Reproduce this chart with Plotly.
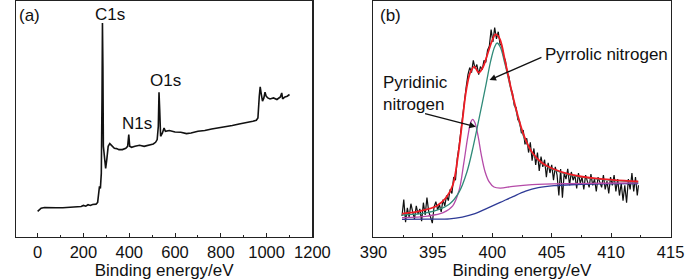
import plotly.graph_objects as go

# ---------------- Panel (a): survey spectrum ----------------
survey_ev = [0, 5, 15, 30, 50, 80, 110, 140, 170, 190, 200, 210, 220, 230, 240, 255, 262, 266, 270, 274, 278,
             281, 283, 285, 287, 291, 297, 302, 308, 315, 325, 335, 345, 355, 370, 385, 393, 398, 402, 410, 425,
             445, 465, 485, 505, 515, 522, 527, 530, 533, 537, 545, 552, 558, 575, 600, 625, 650, 670, 700, 730,
             760, 790, 820, 850, 880, 910, 940, 955, 962, 968, 972, 977, 982, 988, 993, 998, 1005, 1015, 1030,
             1045, 1060, 1066, 1070, 1080, 1090, 1100]
survey_int = [25, 26, 28.3, 29, 28.7, 28.7, 28.7, 29, 29.3, 30, 31, 30.3, 31.7, 31, 32, 32.3, 34, 46.7, 50, 48, 63,
              137, 213, 170, 90, 80, 68, 77, 90, 92.7, 90, 88, 87.7, 86.7, 86.7, 88, 90, 101.7, 90, 89, 90,
              91, 90, 91.3, 92.3, 94, 96.7, 110, 144, 127, 100, 103.3, 108.3, 105, 105.7, 104.3, 104, 102.7, 103.3, 105, 105.7,
              107.3, 108.3, 109.3, 110.7, 112.3, 113.3, 115, 116, 118.3, 140, 149.3, 141.7, 135, 138.3, 144, 140, 138.3, 137.3, 138.3,
              136.7, 139.3, 143.3, 137.3, 139.3, 140, 141.7]

# ---------------- Panel (b): N1s high resolution ----------------
n1s_ev = [392.40, 392.55, 392.70, 392.85, 393.00, 393.15, 393.30, 393.45, 393.60, 393.75, 393.90, 394.05, 394.20,
          394.35, 394.50, 394.65, 394.80, 394.95, 395.10, 395.25, 395.40, 395.55, 395.70, 395.85, 396.00, 396.15,
          396.30, 396.45, 396.60, 396.75, 396.90, 397.05, 397.20, 397.35, 397.50, 397.65, 397.80, 397.95, 398.10,
          398.25, 398.40, 398.55, 398.70, 398.85, 399.00, 399.15, 399.30, 399.45, 399.60, 399.75, 399.90, 400.05,
          400.20, 400.35, 400.50, 400.65, 400.80, 400.95, 401.10, 401.25, 401.40, 401.55, 401.70, 401.85, 402.00,
          402.15, 402.30, 402.45, 402.60, 402.75, 402.90, 403.05, 403.20, 403.35, 403.50, 403.65, 403.80, 403.95,
          404.10, 404.25, 404.40, 404.55, 404.70, 404.85, 405.00, 405.15, 405.30, 405.45, 405.60, 405.75, 405.90,
          406.05, 406.20, 406.35, 406.50, 406.65, 406.80, 406.95, 407.10, 407.25, 407.40, 407.55, 407.70, 407.85,
          408.00, 408.15, 408.30, 408.45, 408.60, 408.75, 408.90, 409.05, 409.20, 409.35, 409.50, 409.65, 409.80,
          409.95, 410.10, 410.25, 410.40, 410.55, 410.70, 410.85, 411.00, 411.15, 411.30, 411.45, 411.60, 411.75,
          411.90, 412.05, 412.20, 412.30]
n1s_int = [20, 36, 14, 28, 19, 32, 24, 17, 30, 22, 27, 15, 33,
           21, 38, 24, 19, 13, 29, 34, 26, 31, 24, 36, 30, 40,
           35, 46, 42, 58, 55, 76, 88, 104, 118, 136, 146, 158, 165,
           160, 172, 164, 168, 158, 166, 163, 172, 170, 182, 186, 202, 190,
           204, 193, 200, 188, 186, 176, 172, 160, 156, 145, 140, 128, 126,
           114, 112, 101, 104, 90, 96, 82, 92, 74, 86, 70, 82, 64,
           78, 68, 75, 58, 72, 62, 70, 55, 68, 60, 40, 66, 38,
           62, 56, 66, 50, 63, 55, 60, 47, 62, 52, 58, 46, 60,
           54, 48, 61, 50, 56, 44, 58, 52, 48, 60, 46, 54, 42,
           58, 50, 60, 44, 56, 40, 52, 35, 50, 33, 56, 46, 62,
           44, 58, 40, 50]

baseline_ev = [392.40, 394.54, 396.40, 397.47, 398.54, 399.60, 400.67, 401.74, 402.80, 403.87, 405.20, 407.08, 409.20, 412.28]
baseline_int = [16.7, 17, 17.3, 19, 22.3, 27.7, 33.3, 39, 44.3, 47.7, 49.7, 50.7, 51.3, 51.7]

pyridinic_ev = [392.40, 394.54, 395.87, 396.67, 397.20, 397.60, 397.95, 398.19, 398.35, 398.54, 398.80, 399.07,
                399.39, 399.74, 400.14, 400.67, 401.74, 403.34, 406.00, 409.20, 412.28]
pyridinic_int = [18.3, 20, 23.3, 30, 45, 71.7, 98.3, 111.7, 114.3, 111, 98.3, 80,
                 63.3, 53.3, 48.3, 47.3, 49, 50.7, 51.7, 52, 52.3]

pyrrolic_ev = [392.40, 394.00, 395.34, 396.40, 397.20, 397.87, 398.40, 398.94, 399.47, 399.87, 400.19, 400.40,
               400.67, 401.07, 401.60, 402.14, 402.67, 403.34, 404.14, 405.20, 406.54, 408.68, 412.28]
pyrrolic_int = [21, 22.3, 25.7, 31.7, 43.3, 63.3, 88.3, 118.3, 148.3, 171.7, 185, 189,
                185, 168.3, 141.7, 116.7, 96.7, 81.7, 71.7, 65, 60, 56.3, 53.3]

envelope_ev = [392.40, 394.00, 395.34, 396.14, 396.67, 397.07, 397.47, 397.79, 398.14, 398.49, 398.86, 399.20,
               399.60, 400.00, 400.27, 400.62, 401.07, 401.60, 402.14, 402.67, 403.34, 404.14, 405.20, 406.54,
               408.68, 412.28]
envelope_int = [22.3, 25, 30, 38.3, 50, 75, 111.7, 141.7, 160, 166, 160, 165,
                178.3, 191.7, 197.3, 193.3, 171.7, 143.3, 118.3, 98.3, 82.3, 72.3, 65.7, 60.7,
                56.7, 53.7]

xa_ticks = [0, 200, 400, 600, 800, 1000, 1200]
xb_ticks = [390, 395, 400, 405, 410, 415]

FONT = "Liberation Sans, Arial, sans-serif"
W, H = 700, 280


def px(x):
    return x / W


def py(y):
    return 1 - y / H


fig = go.Figure()

fig.add_trace(go.Scatter(x=survey_ev, y=survey_int, mode="lines",
                         line=dict(color="#111111", width=1.6), xaxis="x", yaxis="y"))

fig.add_trace(go.Scatter(x=n1s_ev, y=n1s_int, mode="lines",
                         line=dict(color="#111111", width=1.2), xaxis="x2", yaxis="y2"))
fig.add_trace(go.Scatter(x=baseline_ev, y=baseline_int, mode="lines", line_shape="spline",
                         line=dict(color="#2e3a96", width=1.3), xaxis="x2", yaxis="y2"))
fig.add_trace(go.Scatter(x=pyridinic_ev, y=pyridinic_int, mode="lines", line_shape="spline",
                         line=dict(color="#b54aa8", width=1.3), xaxis="x2", yaxis="y2"))
fig.add_trace(go.Scatter(x=pyrrolic_ev, y=pyrrolic_int, mode="lines", line_shape="spline",
                         line=dict(color="#2f8a78", width=1.3), xaxis="x2", yaxis="y2"))
fig.add_trace(go.Scatter(x=envelope_ev, y=envelope_int, mode="lines", line_shape="spline",
                         line=dict(color="#ee1c24", width=1.8), xaxis="x2", yaxis="y2"))

ydom = [(H - 236.5) / H, (H - 1) / H]
axis_common = dict(showline=True, mirror=True, linecolor="#222222", linewidth=1.3,
                   ticks="inside", ticklen=4, tickwidth=1, tickcolor="#222222",
                   showgrid=False, zeroline=False,
                   tickfont=dict(family=FONT, size=16.5, color="#111111"),
                   title=dict(text="Binding energy/eV", font=dict(family=FONT, size=17, color="#111111"),
                              standoff=4))

fig.update_layout(
    width=W, height=H,
    margin=dict(l=0, r=0, t=0, b=0),
    paper_bgcolor="white", plot_bgcolor="white",
    showlegend=False,
    hovermode=False,
    xaxis=dict(domain=[2 / W, 312.7 / W], range=[-95, 1200], tickvals=xa_ticks,
               minor=dict(ticks="inside", ticklen=2, dtick=100, tickcolor="#222222"),
               anchor="y", **axis_common),
    yaxis=dict(domain=ydom, range=[0, 235], showline=True, mirror=True, linecolor="#222222",
               linewidth=1.3, showticklabels=False, ticks="", showgrid=False, zeroline=False,
               anchor="x"),
    xaxis2=dict(domain=[376.7 / W, 688 / W], range=[390, 415], tickvals=xb_ticks,
                minor=dict(ticks="inside", ticklen=2, dtick=2.5, tickcolor="#222222"),
                anchor="y2", **axis_common),
    yaxis2=dict(domain=ydom, range=[0, 230], showline=True, mirror=True, linecolor="#222222",
                linewidth=1.3, showticklabels=False, ticks="", showgrid=False, zeroline=False,
                anchor="x2"),
)

tf = dict(family=FONT, size=17, color="#111111")
annots = [
    dict(text="(a)", x=px(16), y=py(15)),
    dict(text="(b)", x=px(395), y=py(15)),
    dict(text="C1s", x=px(101), y=py(14)),
    dict(text="N1s", x=px(128.5), y=py(123)),
    dict(text="O1s", x=px(159), y=py(80)),
    dict(text="Pyrrolic nitrogen", x=px(620.5), y=py(55)),
]
for a in annots:
    fig.add_annotation(xref="paper", yref="paper", showarrow=False, font=tf,
                       xanchor="center", yanchor="middle", **a)

fig.add_annotation(xref="paper", yref="paper", showarrow=False, font=tf,
                   text="Pyridinic<br>nitrogen", align="left",
                   x=px(385), y=py(94), xanchor="left", yanchor="middle")

# arrows
fig.add_annotation(xref="paper", yref="paper", x=px(498.3), y=py(80), text="",
                   showarrow=True, arrowhead=2, arrowsize=1, arrowwidth=1.3, arrowcolor="#111111",
                   ax=53.4, ay=-23.3)
fig.add_annotation(xref="paper", yref="paper", x=px(484), y=py(126.7), text="",
                   showarrow=True, arrowhead=2, arrowsize=1, arrowwidth=1.3, arrowcolor="#111111",
                   ax=-52.3, ay=-13.4)

fig.write_html("out.html", config={"displayModeBar": False, "staticPlot": True},
               post_script="document.body.style.margin='0';")
